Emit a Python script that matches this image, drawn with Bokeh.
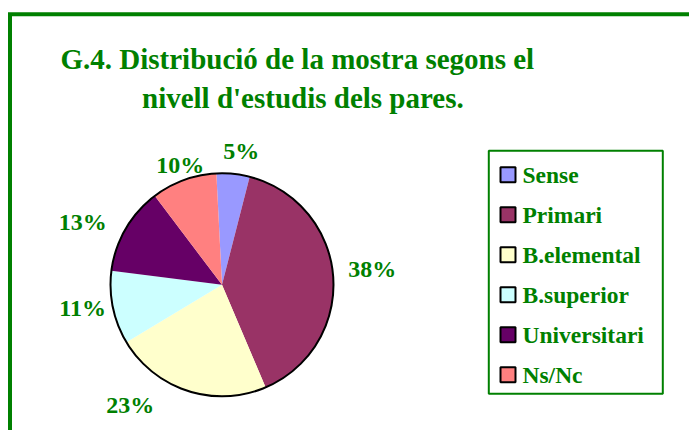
import math
from bokeh.plotting import figure
from bokeh.models import Range1d, ColumnDataSource
from bokeh.core.properties import value
from bokeh.embed import file_html
from bokeh.resources import INLINE

# ---- data ----
categories = ["Sense", "Primari", "B.elemental", "B.superior", "Universitari", "Ns/Nc"]
shares = [4.8, 39.6, 22.8, 10.6, 12.7, 9.5]
pct_labels = ["5%", "38%", "23%", "11%", "13%", "10%"]
colors = ["#9999FF", "#993366", "#FFFFCC", "#CCFFFF", "#660066", "#FF8080"]
title_lines = ["G.4. Distribució de la mostra segons el", "nivell d'estudis dels pares."]

# ---- layout (page pixels, y measured downward) ----
W, H = 689, 430
GREEN = "#008000"
FONT = value("Liberation Serif")

def Y(py):
    return H - py

p = figure(width=W, height=H, output_backend="svg", toolbar_location=None,
           x_range=Range1d(0, W), y_range=Range1d(0, H),
           x_axis_type=None, y_axis_type=None, min_border=0,
           outline_line_color=None, background_fill_color="white",
           border_fill_color="white")
p.grid.visible = False

# frame (only top and left edges visible in the crop)
p.line(x=[9.5, 9.5, 720], y=[Y(460), Y(13.7), Y(13.7)], line_color=GREEN,
       line_width=4, line_join="miter")

# title
p.text(x=[60], y=[Y(58.5)], text=[title_lines[0]], text_font=FONT,
       text_font_style="bold", text_font_size="29px", text_color=GREEN,
       text_align="left", text_baseline="middle")
p.text(x=[141.5], y=[Y(97.9)], text=[title_lines[1]], text_font=FONT,
       text_font_style="bold", text_font_size="29px", text_color=GREEN,
       text_align="left", text_baseline="middle")

# pie
cx, cy, R = 221.5, 284.3, 111.5
start_offset = math.radians(2.9)   # first slice starts slightly left of 12 o'clock
total = sum(shares)
a0 = math.pi / 2 + start_offset
cum = 0.0
starts, ends, mids = [], [], []
for s in shares:
    frac0 = cum / total
    cum += s
    frac1 = cum / total
    ends.append(a0 - frac0 * 2 * math.pi)
    starts.append(a0 - frac1 * 2 * math.pi)
    mids.append(a0 - (frac0 + frac1) / 2 * 2 * math.pi)

src = ColumnDataSource(dict(x=[cx] * len(shares), y=[Y(cy)] * len(shares),
                            start=starts, end=ends, color=colors))
p.wedge(x="x", y="y", radius=R, start_angle="start", end_angle="end",
        fill_color="color", line_color=None, source=src)
p.circle(x=[cx], y=[Y(cy)], radius=R, fill_color=None, line_color="black",
         line_width=2)

# percentage labels placed around the pie, with small per-label nudges (page px)
label_R = 140
nudges = [(5.3, 5.0), (10.6, -5.3), (-48.6, -13.1), (-2.3, -5.5), (-18.1, 7.5), (6.1, 11.7)]
lx, ly = [], []
for m, (dx, dy) in zip(mids, nudges):
    px = cx + label_R * math.cos(m) + dx
    py = cy - label_R * math.sin(m) + dy
    lx.append(px)
    ly.append(Y(py))
p.text(x=lx, y=ly, text=pct_labels, text_font=FONT, text_font_style="bold",
       text_font_size="24px", text_color=GREEN, text_align="center",
       text_baseline="middle")

# legend box
p.quad(left=[488.3], right=[662.3], top=[Y(150.3)], bottom=[Y(393.3)],
       fill_color="white", line_color=GREEN, line_width=2)
sw_x, sw_y0, step = 507.5, 174.3, 40
sy = [Y(sw_y0 + i * step) for i in range(len(categories))]
p.rect(x=[sw_x] * len(categories), y=sy, width=15, height=15,
       fill_color=colors, line_color="black", line_width=2)
p.text(x=[522] * len(categories), y=[Y(sw_y0 - 0.3 + i * step) for i in range(len(categories))],
       text=categories, text_font=FONT, text_font_style="bold",
       text_font_size="23.5px", text_color=GREEN, text_align="left",
       text_baseline="middle")

open("out.html", "w").write(file_html(p, INLINE))
